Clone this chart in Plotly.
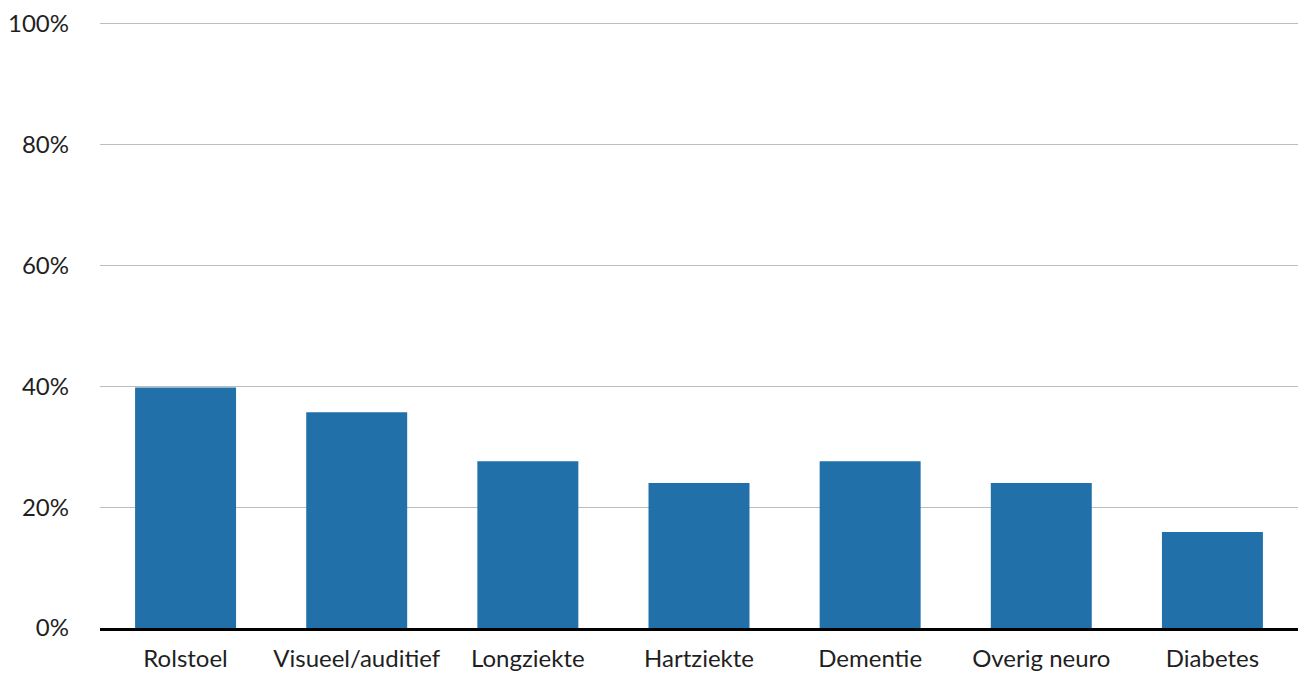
import plotly.graph_objects as go

categories = ["Rolstoel", "Visueel/auditief", "Longziekte", "Hartziekte", "Dementie", "Overig neuro", "Diabetes"]
values = [39.8, 35.7, 27.6, 24.0, 27.6, 24.0, 15.9]
y_ticks = [0, 20, 40, 60, 80, 100]
y_tick_labels = ["0%", "20%", "40%", "60%", "80%", "100%"]

fig = go.Figure(
    go.Bar(x=categories, y=values, marker=dict(color="#2270a9", line=dict(width=0)),
           hoverinfo="x+y")
)
fig.update_layout(
    width=1299, height=673,
    margin=dict(l=100, r=1, t=22, b=42),
    paper_bgcolor="white", plot_bgcolor="white",
    bargap=0.41,
    font=dict(family="Lato, 'Open Sans', sans-serif", size=24, color="#1f1f1f"),
    showlegend=False,
)
fig.update_yaxes(
    range=[0, 100.3], tickvals=y_ticks, ticktext=y_tick_labels,
    showgrid=True, gridcolor="#bdbdbd", gridwidth=1,
    zeroline=False, showline=False, ticks="", ticklabelstandoff=30,
    tickfont=dict(size=24),
)
fig.update_xaxes(
    showline=True, linecolor="#000000", linewidth=2.5,
    ticks="", showgrid=False, ticklabelstandoff=7,
    tickfont=dict(size=24),
)
fig.write_html("out.html")
